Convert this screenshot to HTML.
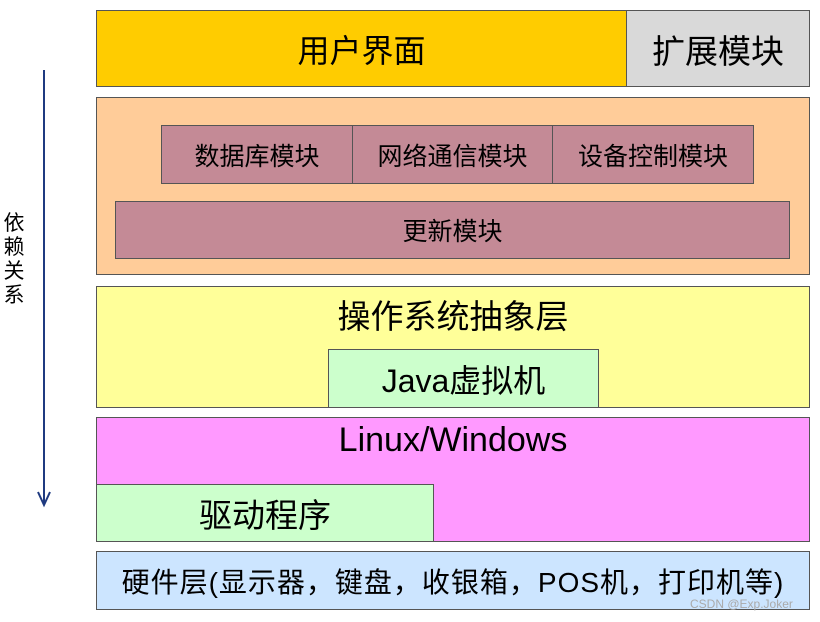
<!DOCTYPE html>
<html><head><meta charset="utf-8"><style>
body{margin:0;width:820px;height:622px;background:#fff;position:relative;overflow:hidden;font-family:"Liberation Sans","Noto Sans CJK SC",sans-serif;}
.b{position:absolute;box-sizing:border-box;border:1.5px solid #555;display:flex;align-items:center;justify-content:center;color:#000;white-space:nowrap;}
.t{position:absolute;text-align:center;color:#000;white-space:nowrap;}
</style></head><body>
<div class="b" style="left:96px;top:10px;width:531px;height:77px;background:#FFCC00;font-size:32px;">用户界面</div>
<div class="b" style="left:626px;top:10px;width:184px;height:77px;background:#D9D9D9;font-size:33px;">扩展模块</div>

<div class="b" style="left:96px;top:97px;width:714px;height:178px;background:#FFCC99;"></div>
<div class="b" style="left:161px;top:125px;width:192px;height:59px;background:#C48A96;font-size:25px;">数据库模块</div>
<div class="b" style="left:352px;top:125px;width:201px;height:59px;background:#C48A96;font-size:25px;">网络通信模块</div>
<div class="b" style="left:552px;top:125px;width:202px;height:59px;background:#C48A96;font-size:25px;">设备控制模块</div>
<div class="b" style="left:115px;top:201px;width:675px;height:58px;background:#C48A96;font-size:25px;">更新模块</div>

<div class="b" style="left:96px;top:286px;width:714px;height:122px;background:#FFFF99;"></div>
<div class="t" style="left:96px;top:290px;width:714px;font-size:33px;">操作系统抽象层</div>
<div class="b" style="left:328px;top:349px;width:271px;height:59px;background:#CCFFCC;font-size:32px;">Java虚拟机</div>

<div class="b" style="left:96px;top:417px;width:714px;height:125px;background:#FF99FF;"></div>
<div class="t" style="left:96px;top:421px;width:714px;font-size:34px;">Linux/Windows</div>
<div class="b" style="left:96px;top:484px;width:338px;height:58px;background:#CCFFCC;font-size:33px;">驱动程序</div>

<div class="b" style="left:96px;top:551px;width:714px;height:59px;background:#CCE5FF;font-size:28px;letter-spacing:1px;">硬件层(显示器，键盘，收银箱，POS机，打印机等)</div>
<div class="t" style="left:690px;top:597px;font-size:12px;color:#aaa;">CSDN @Exp.Joker</div>

<svg style="position:absolute;left:0;top:0" width="90" height="622">
<line x1="44" y1="70" x2="44" y2="504" stroke="#1F3A80" stroke-width="2"/>
<polyline points="38,492 44,505 50,492" fill="none" stroke="#1F3A80" stroke-width="2"/>
</svg>
<div class="t" style="left:2px;top:212px;width:24px;font-size:21px;line-height:24px;">依<br>赖<br>关<br>系</div>
</body></html>
